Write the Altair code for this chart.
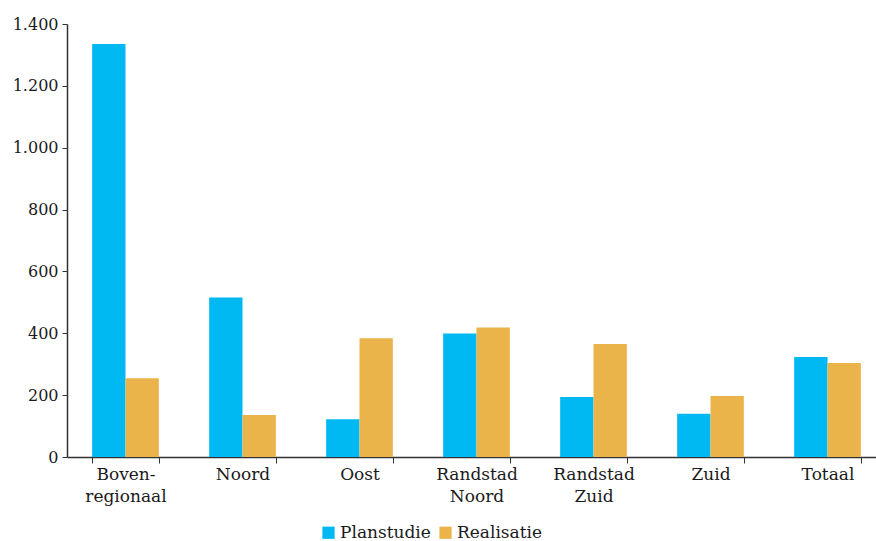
import altair as alt
import pandas as pd

# Regions (a "|" marks a line break in the axis label)
regions = ["Boven-|regionaal", "Noord", "Oost", "Randstad|Noord", "Randstad|Zuid", "Zuid", "Totaal"]
planstudie = [1335, 516, 122, 399, 194, 140, 323]
realisatie = [255, 136, 384, 419, 365, 197, 304]
series = ["Planstudie", "Realisatie"]
colors = ["#00B9F2", "#EBB44A"]
y_ticks = [0, 200, 400, 600, 800, 1000, 1200, 1400]

rows = []
for r, p, q in zip(regions, planstudie, realisatie):
    rows.append({"regio": r, "reeks": series[0], "waarde": p})
    rows.append({"regio": r, "reeks": series[1], "waarde": q})
df = pd.DataFrame(rows)

FONT = "DejaVu Serif"

chart = (
    alt.Chart(df)
    .mark_bar()
    .encode(
        x=alt.X(
            "regio:N",
            sort=regions,
            title=None,
            scale=alt.Scale(paddingInner=0.43, paddingOuter=0.215, range=[0, 819]),
            axis=alt.Axis(
                labelAngle=0,
                labelExpr="split(datum.label, '|')",
                tickBand="extent",
                tickSize=6,
                tickColor="#333333",
                domainColor="#333333",
                domainWidth=1.5,
                labelFont=FONT,
                labelFontSize=17,
                labelColor="#1a1a1a",
                labelLineHeight=22,
                labelPadding=3,
            ),
        ),
        xOffset=alt.XOffset("reeks:N", sort=series),
        y=alt.Y(
            "waarde:Q",
            title=None,
            scale=alt.Scale(domain=[0, 1400], nice=False),
            axis=alt.Axis(
                values=y_ticks,
                grid=False,
                labelExpr="replace(format(datum.value, ','), ',', '.')",
                tickSize=5,
                tickColor="#333333",
                domainColor="#333333",
                domainWidth=1.5,
                labelFont=FONT,
                labelFontSize=16,
                labelColor="#1a1a1a",
                labelPadding=4,
            ),
        ),
        color=alt.Color(
            "reeks:N",
            sort=series,
            scale=alt.Scale(domain=series, range=colors),
            legend=alt.Legend(
                title=None,
                orient="none",
                direction="horizontal",
                legendX=253,
                legendY=500,
                symbolType="square",
                symbolSize=150,
                symbolStrokeWidth=0,
                labelFont=FONT,
                labelFontSize=17,
                labelColor="#1a1a1a",
                labelOffset=3,
                columnPadding=6,
            ),
        ),
    )
    .properties(
        width=809,
        height=433,
        background="white",
        autosize=alt.AutoSizeParams(type="none"),
        padding={"left": 67, "top": 24, "right": 0, "bottom": 84},
    )
    .configure_view(strokeWidth=0, stroke="transparent")
)

chart.save("out.html", embed_options={"renderer": "svg", "actions": False})
